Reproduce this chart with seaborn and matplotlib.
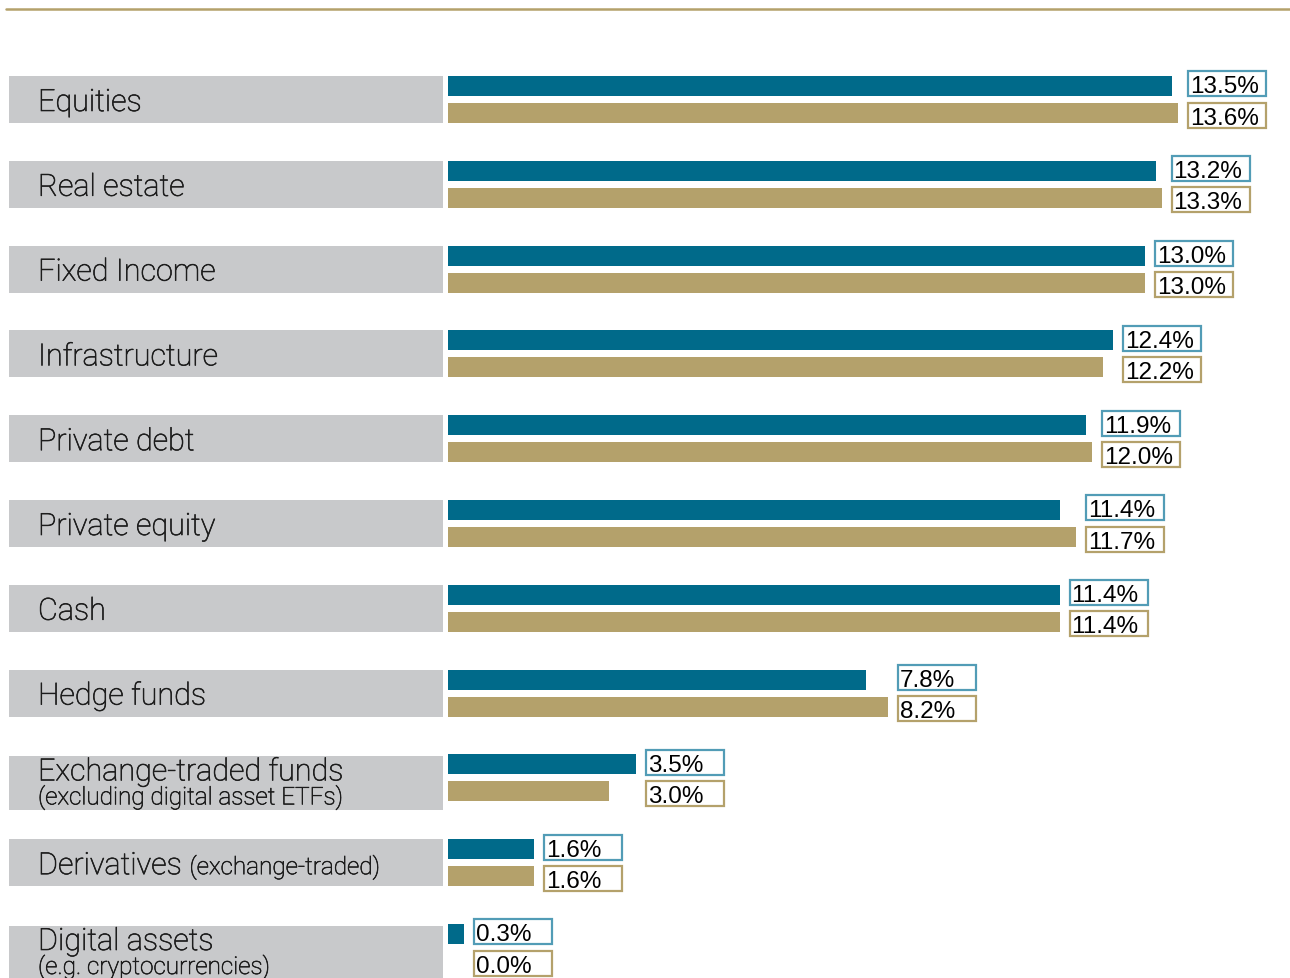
import matplotlib
matplotlib.use("Agg")
import matplotlib.pyplot as plt
from matplotlib.patches import Rectangle
from matplotlib.lines import Line2D
import matplotlib.patheffects as pe
import pandas as pd
import seaborn as sns

# ---- data -------------------------------------------------------------
categories = [
    "Equities", "Real estate", "Fixed Income", "Infrastructure",
    "Private debt", "Private equity", "Cash", "Hedge funds",
    "Exchange-traded funds", "Derivatives", "Digital assets",
]
category_notes = [
    "", "", "", "", "", "", "", "",
    "(excluding digital asset ETFs)", "(exchange-traded)", "(e.g. cryptocurrencies)",
]
notes_inline = [False] * 9 + [True, False]
series_names = ["Series 1", "Series 2"]
series_1 = [13.5, 13.2, 13.0, 12.4, 11.9, 11.4, 11.4, 7.8, 3.5, 1.6, 0.3]
series_2 = [13.6, 13.3, 13.0, 12.2, 12.0, 11.7, 11.4, 8.2, 3.0, 1.6, 0.0]

# ---- style ------------------------------------------------------------
TEAL = "#006a8a"
TEAL_EDGE = "#529cb6"
GOLD = "#b4a16b"
GREY = "#c8c9cb"
INK = "#1c1c1c"

W, H = 1290, 979
SX = 53.65  # pixels per percentage point
SY = 84.8   # pixels per category row
X0 = 448    # pixel position of 0 %
Y0 = 100.5  # pixel position of the first row centre

sns.set_theme(style="white")
label_font = ["Roboto", "DejaVu Sans"]
value_font = ["Liberation Sans", "DejaVu Sans"]
label_fx = [pe.withStroke(linewidth=0.45, foreground=INK)]

fig = plt.figure(figsize=(W / 100, H / 100), dpi=100)
ax = fig.add_axes([0, 0, 1, 1])

df = pd.DataFrame({
    "category": categories * 2,
    "series": [series_names[0]] * len(categories) + [series_names[1]] * len(categories),
    "value": series_1 + series_2,
})

group_width = 0.637
sns.barplot(
    data=df, y="category", x="value", hue="series",
    order=categories, hue_order=series_names,
    palette=[TEAL, GOLD], saturation=1, width=group_width, gap=0.26,
    dodge=True, errorbar=None, legend=False, linewidth=0, ax=ax,
)

ax.set_xlim(-X0 / SX, (W - X0) / SX)
ax.set_ylim((H - Y0) / SY, -Y0 / SY)
ax.axis("off")

px_x = lambda p: p / SX
px_y = lambda p: p / SY

half_span = group_width / 4 + px_y(10)   # half height of a category band
offset = group_width / 4

fig.canvas.draw()
renderer = fig.canvas.get_renderer()

MAIN_SIZE = 22
NOTE_SIZE = 17.5


def label(x, y, s, size):
    return ax.text(x, y, s, fontsize=size, fontweight="light", family=label_font,
                   color=INK, va="baseline", ha="left", path_effects=label_fx)


for i, (cat, note, inline) in enumerate(zip(categories, category_notes, notes_inline)):
    # grey category panel
    two_lines = bool(note) and not inline
    top = i - half_span + (px_y(2) if two_lines else 0)
    bottom = i + half_span + (px_y(9) if two_lines else 0)
    ax.add_patch(Rectangle((px_x(9 - X0), top), px_x(434), bottom - top,
                           facecolor=GREY, edgecolor="none", zorder=0))

    tx = px_x(38 - X0)
    if two_lines:
        label(tx, i + px_y(2.5), cat, MAIN_SIZE)
        label(tx, i + px_y(26.5), note, NOTE_SIZE)
    else:
        t = label(tx, i + px_y(11.5), cat, MAIN_SIZE)
        if note:
            bb = t.get_window_extent(renderer)
            x_end = ax.transData.inverted().transform((bb.x1, 0))[0]
            label(x_end + px_x(8), i + px_y(11.5), note, NOTE_SIZE)

    # value boxes, placed just right of the longer bar of the pair
    box_left = max(series_1[i], series_2[i]) + px_x(10)
    for val, centre, edge in (
        (series_1[i], i - offset - px_y(2), TEAL_EDGE),
        (series_2[i], i + offset + px_y(2), GOLD),
    ):
        bh = px_y(25)
        ax.add_patch(Rectangle((box_left, centre - bh / 2), px_x(78), bh,
                               facecolor="white", edgecolor=edge,
                               linewidth=1.6, zorder=3))
        ax.text(box_left + px_x(2), centre + px_y(8.5), f"{val:.1f}%",
                fontsize=17.5, family=value_font, color="black",
                va="baseline", ha="left", zorder=4)

# rule across the top
fig.add_artist(Line2D([6 / W, 1], [1 - 10 / H, 1 - 10 / H],
                      color=GOLD, linewidth=1.8, transform=fig.transFigure))

fig.savefig("out.png", dpi=100)
